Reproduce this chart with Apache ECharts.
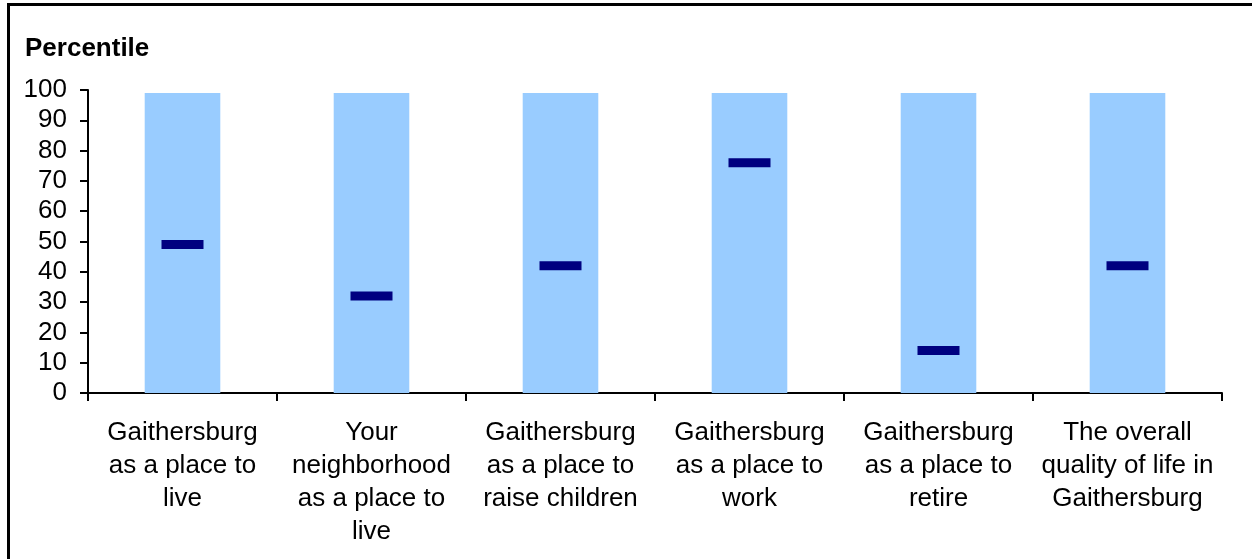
<!DOCTYPE html>
<html>
<head>
<meta charset="utf-8">
<script src="https://cdn.jsdelivr.net/npm/echarts@6/dist/echarts.min.js"></script>
<style>
html,body{margin:0;padding:0;background:#fff;}
#frame{position:absolute;left:7px;top:3px;width:1260px;height:570px;border-top:3px solid #000;border-left:3px solid #000;}
#chart{position:absolute;left:0;top:0;width:1252px;height:559px;}
</style>
</head>
<body>
<div id="frame"></div>
<div id="chart"></div>
<script>
const categories = [
  "Gaithersburg\nas a place to\nlive",
  "Your\nneighborhood\nas a place to\nlive",
  "Gaithersburg\nas a place to\nraise children",
  "Gaithersburg\nas a place to\nwork",
  "Gaithersburg\nas a place to\nretire",
  "The overall\nquality of life in\nGaithersburg"
];
const rangeValues = [99, 99, 99, 99, 99, 99];
const percentileValues = [49, 32, 42, 76, 14, 42];
const yTicks = { min: 0, max: 100, interval: 10 };

const chart = echarts.init(document.getElementById('chart'), null, { renderer: 'canvas' });
chart.setOption({
  backgroundColor: 'transparent',
  animation: false,
  title: {
    text: 'Percentile',
    left: 20, top: 31,
    textStyle: { fontFamily: 'Liberation Sans', fontSize: 26, fontWeight: 'bold', color: '#000' }
  },
  grid: { left: 88, top: 90, right: 30, bottom: 166, containLabel: false },
  xAxis: {
    type: 'category',
    data: categories,
    boundaryGap: true,
    axisLine: { lineStyle: { color: '#000', width: 2 } },
    axisTick: { show: true, alignWithLabel: false, length: 8, lineStyle: { color: '#000', width: 2 } },
    axisLabel: {
      interval: 0, margin: 23, color: '#000',
      fontFamily: 'Liberation Sans', fontSize: 26, lineHeight: 33, align: 'center'
    },
    splitLine: { show: false }
  },
  yAxis: {
    type: 'value',
    min: yTicks.min, max: yTicks.max, interval: yTicks.interval,
    axisLine: { show: true, lineStyle: { color: '#000', width: 2 } },
    axisTick: { show: true, length: 8, lineStyle: { color: '#000', width: 2 } },
    axisLabel: { margin: 21, color: '#000', fontFamily: 'Liberation Sans', fontSize: 26 },
    splitLine: { show: false }
  },
  series: [
    {
      type: 'bar',
      data: rangeValues,
      barWidth: '40%',
      itemStyle: { color: '#99CCFF' },
      z: 1
    },
    {
      type: 'scatter',
      data: percentileValues,
      symbol: 'rect',
      symbolSize: [42, 9],
      itemStyle: { color: '#000080', opacity: 1 },
      z: 3
    }
  ]
});
</script>
</body>
</html>
